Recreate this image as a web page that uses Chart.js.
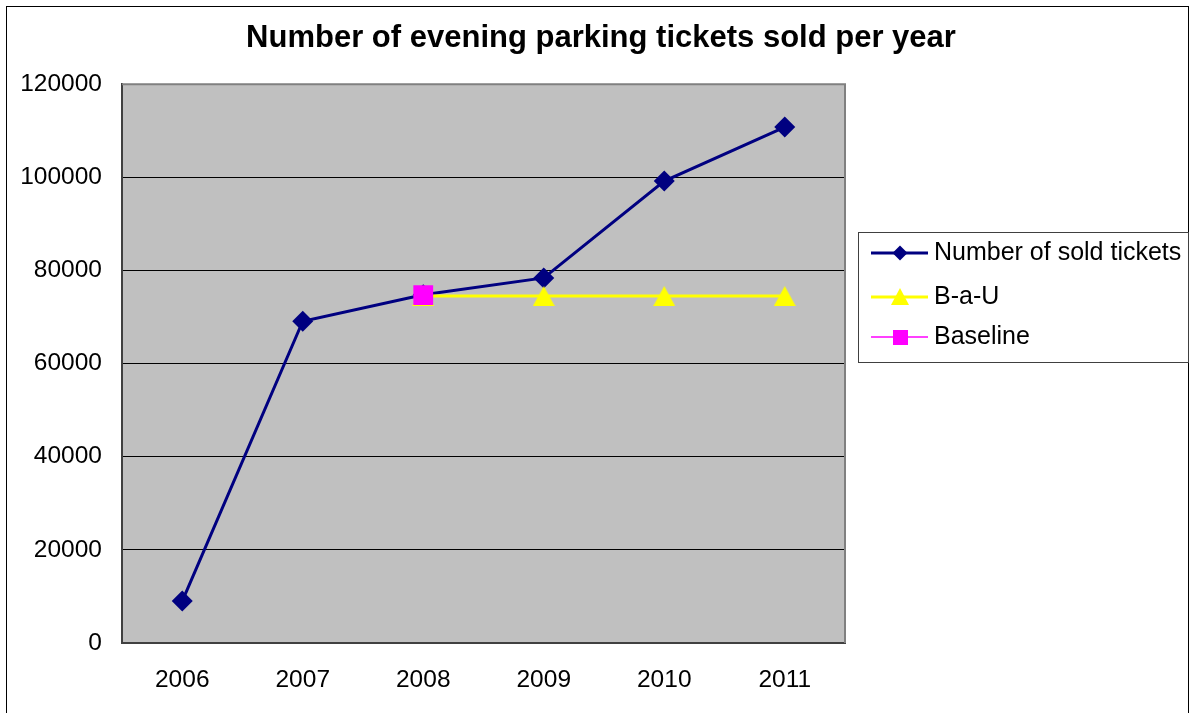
<!DOCTYPE html>
<html><head><meta charset="utf-8">
<script src="https://cdn.jsdelivr.net/npm/chart.js@4.4.0/dist/chart.umd.min.js"></script>
<style>html,body{margin:0;padding:0;background:#fff}#wrap{position:relative;width:1190px;height:713px}</style>
</head><body><div id="wrap"><canvas id="c" width="1190" height="713"></canvas></div>
<script>
const years = ['2006', '2007', '2008', '2009', '2010', '2011'];
const soldTickets = [9000, 69100, 74800, 78400, 99200, 110800];
const businessAsUsual = [null, null, 74500, 74500, 74500, 74500];
const baseline = [null, null, 74700, null, null, null];
const seriesNames = ['Number of sold tickets', 'B-a-U', 'Baseline'];
const yMin = 0, yMax = 120000, yStep = 20000;
const titleText = 'Number of evening parking tickets sold per year';

const FONT = "'Liberation Sans', Arial, sans-serif";

function triangleImage(color, w, h) {
  const c = document.createElement('canvas');
  c.width = w; c.height = h;
  const g = c.getContext('2d');
  g.fillStyle = color;
  g.beginPath();
  g.moveTo(w / 2, 0); g.lineTo(w, h); g.lineTo(0, h); g.closePath();
  g.fill();
  return c;
}
const triImg = triangleImage('#ffff00', 22, 20);

const chromePlugin = {
  id: 'chrome',
  beforeDraw(chart) {
    const {ctx, chartArea: a} = chart;
    ctx.save();
    ctx.fillStyle = '#ffffff';
    ctx.fillRect(0, 0, chart.width, chart.height);
    ctx.fillStyle = '#c0c0c0';
    ctx.fillRect(a.left, a.top, a.right - a.left, a.bottom - a.top);
    ctx.restore();
  },
  beforeDatasetsDraw(chart) {
    const {ctx, chartArea: a} = chart;
    ctx.save();
    ctx.strokeStyle = '#808080';
    ctx.lineWidth = 2;
    ctx.beginPath();
    ctx.moveTo(a.left, a.top);
    ctx.lineTo(a.right, a.top);
    ctx.lineTo(a.right, a.bottom);
    ctx.stroke();
    ctx.restore();
  },
  afterDraw(chart) {
    const ctx = chart.ctx;
    ctx.save();
    ctx.strokeStyle = '#000';
    ctx.lineWidth = 1;
    ctx.strokeRect(6.5, 6.5, 1182, 720);
    const bx = 858.5, by = 232.5, bw = 330, bh = 130;
    ctx.fillStyle = '#fff';
    ctx.fillRect(bx, by, bw, bh);
    ctx.strokeStyle = '#404040';
    ctx.strokeRect(bx, by, bw, bh);
    const rows = [253, 297, 337];
    chart.data.datasets.forEach((ds, i) => {
      const y = rows[i];
      ctx.strokeStyle = ds.borderColor;
      ctx.lineWidth = i === 2 ? 1.5 : 3;
      ctx.beginPath();
      ctx.moveTo(871, y);
      ctx.lineTo(928, y);
      ctx.stroke();
      ctx.fillStyle = ds.borderColor;
      ctx.beginPath();
      const cx = 900;
      if (i === 0) {
        const r = 7.5;
        ctx.moveTo(cx, y - r); ctx.lineTo(cx + r, y); ctx.lineTo(cx, y + r); ctx.lineTo(cx - r, y); ctx.closePath();
      } else if (i === 1) {
        ctx.moveTo(cx, y - 9); ctx.lineTo(cx + 9, y + 8); ctx.lineTo(cx - 9, y + 8); ctx.closePath();
      } else {
        ctx.rect(cx - 7, y - 7, 15, 15);
      }
      ctx.fill();
      ctx.fillStyle = '#000';
      ctx.font = '25px ' + FONT;
      ctx.textBaseline = 'middle';
      ctx.textAlign = 'left';
      ctx.fillText(ds.label, 934, y);
    });
    ctx.restore();
  }
};

new Chart(document.getElementById('c'), {
  type: 'line',
  data: {
    labels: years,
    datasets: [
      {
        label: seriesNames[0], data: soldTickets, yAxisID: 'y',
        borderColor: '#000080', backgroundColor: '#000080',
        pointBackgroundColor: '#000080', pointBorderColor: '#000080',
        borderWidth: 3, pointStyle: 'rectRot', pointRadius: 10.5, pointBorderWidth: 0,
        tension: 0, order: 3
      },
      {
        label: seriesNames[1], data: businessAsUsual, yAxisID: 'y',
        borderColor: '#ffff00', backgroundColor: '#ffff00',
        pointBackgroundColor: '#ffff00', pointBorderColor: '#ffff00',
        borderWidth: 3, pointStyle: triImg, pointRadius: 11, pointBorderWidth: 0,
        tension: 0, order: 2
      },
      {
        label: seriesNames[2], data: baseline, yAxisID: 'y',
        borderColor: '#ff00ff', backgroundColor: '#ff00ff',
        pointBackgroundColor: '#ff00ff', pointBorderColor: '#ff00ff',
        borderWidth: 1, pointStyle: 'rect', pointRadius: 14, pointBorderWidth: 0,
        tension: 0, order: 1
      }
    ]
  },
  options: {
    responsive: false,
    animation: false,
    devicePixelRatio: 1,
    layout: { padding: { left: 12, right: 0, top: 0, bottom: 0 } },
    plugins: {
      legend: { display: false },
      tooltip: { enabled: false },
      title: {
        display: true, text: titleText, color: '#000',
        font: { family: FONT, size: 31, weight: 'bold' },
        padding: { top: 20, bottom: 27 }
      }
    },
    scales: {
      x: {
        offset: true,
        grid: { display: false, drawTicks: false },
        border: { display: true, color: '#404040', width: 2 },
        ticks: { color: '#000', font: { family: FONT, size: 24.5 }, padding: 23, maxRotation: 0 },
        afterFit(s) { s.height = 70; }
      },
      y: {
        position: 'left',
        min: yMin, max: yMax,
        grid: { color: '#000', lineWidth: 1, drawTicks: false },
        border: { display: true, color: '#404040', width: 2 },
        ticks: { stepSize: yStep, color: '#000', font: { family: FONT, size: 24.5 }, padding: 20,
                 callback: (v) => String(v) },
        afterFit(s) { s.width = 110; }
      },
      legendSpace: {
        type: 'linear', position: 'right', axis: 'y',
        min: yMin, max: yMax,
        grid: { display: false, drawTicks: false },
        border: { display: false },
        ticks: { display: false },
        afterFit(s) { s.width = 345; }
      }
    }
  },
  plugins: [chromePlugin]
});
</script>
</body></html>
